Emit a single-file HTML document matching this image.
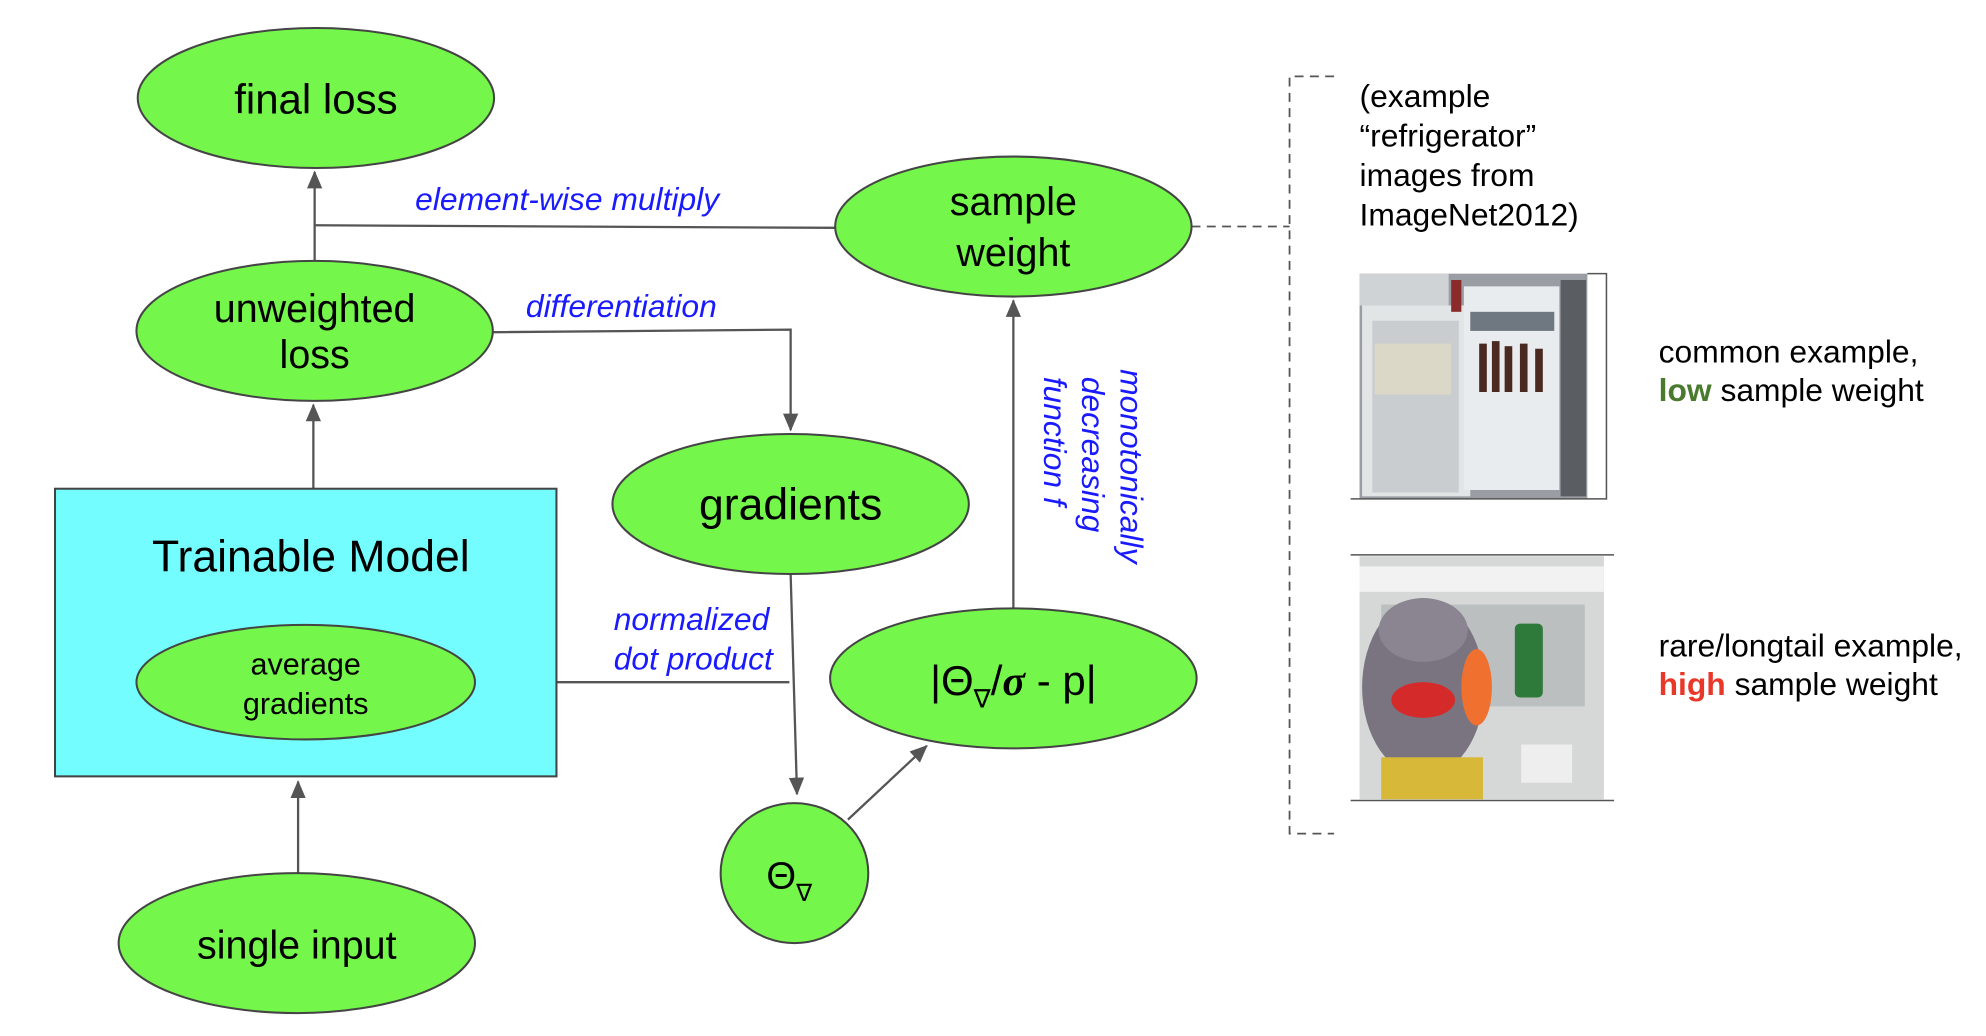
<!DOCTYPE html>
<html><head><meta charset="utf-8"><style>
html,body{margin:0;padding:0;background:#fff}
svg{display:block}
text{font-family:"Liberation Sans",sans-serif}
</style></head><body>
<svg width="1986" height="1036" viewBox="0 0 1560 814" xmlns="http://www.w3.org/2000/svg">
<defs>
<marker id="a" markerWidth="14" markerHeight="12" refX="13" refY="6" orient="auto" markerUnits="userSpaceOnUse">
<path d="M0,0 L14,6 L0,12 z" fill="#555"/></marker>
</defs>
<g stroke="#555" stroke-width="1.8" fill="none">
<line x1="247" y1="205" x2="247" y2="135" marker-end="url(#a)"/>
<line x1="247" y1="177" x2="656" y2="179"/>
<polyline points="387,261 621,259 621,338" marker-end="url(#a)"/>
<line x1="246" y1="384" x2="246" y2="318" marker-end="url(#a)"/>
<line x1="234" y1="686" x2="234" y2="614" marker-end="url(#a)"/>
<line x1="373" y1="536" x2="620" y2="536"/>
<line x1="621" y1="451" x2="626" y2="624" marker-end="url(#a)"/>
<line x1="666" y1="644" x2="728" y2="586" marker-end="url(#a)"/>
<line x1="796" y1="478" x2="796" y2="236" marker-end="url(#a)"/>
</g>
<g stroke="#555" stroke-width="1.4" fill="none" stroke-dasharray="7,5">
<line x1="936" y1="178" x2="1013" y2="178"/>
<polyline points="1048,60 1013,60 1013,655 1048,655"/>
</g>
<rect x="43" y="384" width="394" height="226" fill="#74FDFE" stroke="#444" stroke-width="1.6"/>
<g fill="#74F64A" stroke="#444" stroke-width="1.6">
<ellipse cx="248" cy="77" rx="140" ry="55"/>
<ellipse cx="247" cy="260" rx="140" ry="55"/>
<ellipse cx="796" cy="178" rx="140" ry="55"/>
<ellipse cx="621" cy="396" rx="140" ry="55"/>
<ellipse cx="240" cy="536" rx="133" ry="45"/>
<ellipse cx="796" cy="533" rx="144" ry="55"/>
<ellipse cx="624" cy="686" rx="58" ry="55"/>
<ellipse cx="233" cy="741" rx="140" ry="55"/>
</g>
<g fill="#000" text-anchor="middle">
<text x="248" y="89" font-size="33">final loss</text>
<text x="247" y="253" font-size="31">unweighted</text>
<text x="247" y="289" font-size="31">loss</text>
<text x="796" y="169" font-size="31">sample</text>
<text x="796" y="209" font-size="31">weight</text>
<text x="621" y="408" font-size="35">gradients</text>
<text x="244" y="449" font-size="35">Trainable Model</text>
<text x="240" y="530" font-size="24">average</text>
<text x="240" y="561" font-size="24">gradients</text>
<text x="233" y="753" font-size="31">single input</text>
<text x="620" y="698" font-size="30">Θ<tspan font-size="19" dy="10">∇</tspan></text>
<text x="796" y="546" font-size="33">|Θ<tspan font-size="20" dy="10">∇</tspan><tspan dy="-10">/</tspan><tspan font-style="italic" font-weight="bold" font-family="Liberation Serif">σ</tspan> - p|</text>
</g>
<g fill="#1a1aff" font-style="italic" font-size="25">
<text x="326" y="165">element-wise multiply</text>
<text x="413" y="249">differentiation</text>
<text x="482" y="495">normalized</text>
<text x="482" y="526">dot product</text>
<text transform="rotate(90 880 290)" x="880" y="290">monotonically</text>
<text transform="rotate(90 850 296)" x="850" y="296">decreasing</text>
<text transform="rotate(90 820 296)" x="820" y="296">function f</text>
</g>
<g fill="#000" font-size="25">
<text x="1068" y="84">(example</text>
<text x="1068" y="115">“refrigerator”</text>
<text x="1068" y="146">images from</text>
<text x="1068" y="177">ImageNet2012)</text>
<text x="1303" y="285">common example,</text>
<text x="1303" y="315"><tspan fill="#4a7a2e" font-weight="bold">low</tspan> sample weight</text>
<text x="1303" y="516">rare/longtail example,</text>
<text x="1303" y="546"><tspan fill="#e8382a" font-weight="bold">high</tspan> sample weight</text>
</g>
<!-- image 1 -->
<rect x="1068" y="215" width="179" height="177" fill="#9a9ea4"/>
<rect x="1068" y="215" width="70" height="25" fill="#cfd3d6"/>
<rect x="1070" y="240" width="85" height="150" fill="#e2e5e6"/>
<rect x="1078" y="252" width="68" height="135" fill="#c9cdd0"/>
<rect x="1080" y="270" width="60" height="40" fill="#dcd8c8"/>
<rect x="1150" y="225" width="75" height="160" fill="#e8ecee"/>
<rect x="1155" y="245" width="66" height="15" fill="#6f7880"/>
<g fill="#4a2a20"><rect x="1162" y="270" width="6" height="38"/><rect x="1172" y="268" width="6" height="40"/><rect x="1182" y="272" width="6" height="36"/><rect x="1194" y="270" width="6" height="38"/><rect x="1206" y="274" width="6" height="34"/></g>
<rect x="1140" y="220" width="8" height="25" fill="#8a2a2a"/>
<rect x="1226" y="220" width="20" height="170" fill="#5a5e63"/>
<g stroke="#555" stroke-width="1.2" fill="none"><polyline points="1247,215 1262,215 1262,392 1061,392"/></g>
<!-- image 2 -->
<rect x="1068" y="437" width="192" height="191" fill="#d6d8d8"/>
<rect x="1068" y="445" width="192" height="20" fill="#f2f2f2"/>
<rect x="1085" y="475" width="160" height="80" fill="#bcbfc0"/>
<rect x="1190" y="490" width="22" height="58" rx="4" fill="#2e7a3a"/>
<ellipse cx="1118" cy="540" rx="48" ry="70" fill="#7a7480"/>
<ellipse cx="1118" cy="495" rx="35" ry="25" fill="#8a8590"/>
<ellipse cx="1118" cy="550" rx="25" ry="14" fill="#d42a2a"/>
<ellipse cx="1160" cy="540" rx="12" ry="30" fill="#f07030"/>
<rect x="1085" y="595" width="80" height="33" fill="#d8b838"/>
<rect x="1195" y="585" width="40" height="30" fill="#eeeeee"/>
<g stroke="#555" stroke-width="1.2"><line x1="1061" y1="436" x2="1268" y2="436"/><line x1="1061" y1="629" x2="1268" y2="629"/></g>
</svg>
</body></html>
